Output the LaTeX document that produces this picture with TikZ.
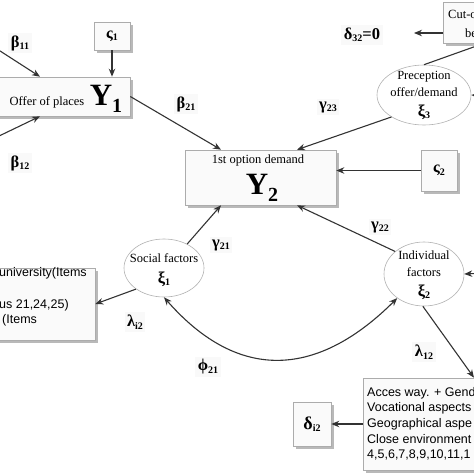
\documentclass[tikz,border=0pt]{standalone}
\usepackage{fontspec}
\setmainfont{Liberation Serif}
\newfontfamily\arialf{Liberation Sans}
\usetikzlibrary{arrows.meta,shadows,shapes.geometric}
\newcommand\gsub[2]{\textbf{#1\raisebox{-2.5pt}{\fontsize{10}{10}\selectfont #2}}}
\begin{document}
\begin{tikzpicture}[x=1pt,y=-1pt,
  arr/.style={draw=black!80, line width=1.1pt, -{Stealth[length=8pt,width=6.5pt]}},
  plain/.style={draw=black!80, line width=1.1pt},
  box/.style={draw=gray!65, line width=0.6pt, fill=gray!4, drop shadow={shadow xshift=2.5pt, shadow yshift=-2.5pt, fill=gray!55, opacity=1}, inner sep=0pt},
  ell/.style={ellipse, draw=gray!60, line width=0.6pt, fill=white, inner sep=0pt},
  coef/.style={fill=gray!5, inner sep=2.5pt, font=\fontsize{16.5}{18}\selectfont},
  serif/.style={font=\fontsize{12.5}{14}\selectfont, inner sep=0pt},
  sans/.style={font=\arialf\fontsize{12.5}{14}\selectfont, inner sep=0pt, anchor=west},
  bigy/.style={inner sep=0pt, font=\bfseries\fontsize{31}{31}\selectfont},
  grk/.style={inner sep=0pt, font=\fontsize{16.5}{18}\selectfont},
]
\useasboundingbox (0,0) rectangle (474,474);

% boxes
\node[box, minimum width=150pt, minimum height=39pt] (Y1) at (55,96.5) {};
\node[serif] (Y1t) at (47,102) {Offer of places};
\node[bigy] (Y1y) at (106,98.5) {Y\raisebox{-7pt}{\fontsize{20}{20}\selectfont 1}};

\node[box, minimum width=151pt, minimum height=55pt] (Y2) at (260.5,177.5) {};
\node[serif] (Y2t) at (258,160) {1st option demand};
\node[bigy] (Y2y) at (262,188) {Y\raisebox{-7pt}{\fontsize{20}{20}\selectfont 2}};

\node[box, minimum width=36pt, minimum height=28pt, font=\fontsize{16}{18}\selectfont] (s1) at (112,36) {\gsub{ς}{1}};
\node[box, minimum width=36pt, minimum height=41pt, font=\fontsize{16}{18}\selectfont] (s2) at (439,170.5) {\gsub{ς}{2}};
\node[box, minimum width=38pt, minimum height=44pt, font=\fontsize{18}{20}\selectfont] (di) at (312,424) {\gsub{δ}{i2}};

\node[box, minimum width=120pt, minimum height=41pt] (C) at (503,22.5) {};
\node[serif, anchor=west] (Ct1) at (448,14) {Cut-o};
\node[serif, anchor=west] (Ct2) at (465,33) {be};

\node[box, minimum width=160pt, minimum height=72pt] (L) at (15,304) {};
\node[sans] (Lt1) at (-1,273) {university(Items};
\node[sans] (Lt2) at (-1,305) {us 21,24,25)};
\node[sans] (Lt3) at (2,320) {(Items};

\node[box, minimum width=200pt, minimum height=92pt] (R) at (463,424) {};
\node[sans] (Rt1) at (367,393) {Acces way. + Gend};
\node[sans] (Rt2) at (367,408.5) {Vocational aspects};
\node[sans] (Rt3) at (367,424) {Geographical aspe};
\node[sans] (Rt4) at (367,439.5) {Close environment};
\node[sans] (Rt5) at (367,455) {4,5,6,7,8,9,10,11,1};

% ellipses
\node[ell, minimum width=94pt, minimum height=60pt] (P) at (424,95) {};
\node[serif] (Pt1) at (424,77) {Preception};
\node[serif] (Pt2) at (424,92) {offer/demand};
\node[grk] (Pt3) at (424,112) {\gsub{ξ}{3}};

\node[ell, minimum width=80pt, minimum height=58pt] (S) at (164,268) {};
\node[serif] (St1) at (164,258) {Social factors};
\node[grk] (St2) at (164,279) {\gsub{ξ}{1}};

\node[ell, minimum width=80pt, minimum height=64pt] (I) at (424,274) {};
\node[serif] (It1) at (424,255) {Individual};
\node[serif] (It2) at (424,272) {factors};
\node[grk] (It3) at (424,292) {\gsub{ξ}{2}};

% coefficient labels
\node[coef] (b11) at (20,43) {\gsub{β}{11}};
\node[coef] (b12) at (20,163) {\gsub{β}{12}};
\node[coef] (b21) at (186,104) {\gsub{β}{21}};
\node[coef] (g23) at (328,107) {\gsub{γ}{23}};
\node[coef] (d32) at (362,35) {\gsub{δ}{32}\textbf{=0}};
\node[coef] (g21) at (221,245) {\gsub{γ}{21}};
\node[coef] (g22) at (380,227) {\gsub{γ}{22}};
\node[coef] (li2) at (135,322) {\gsub{λ}{i2}};
\node[coef] (f21) at (208,367) {\gsub{ϕ}{21}};
\node[coef] (l12) at (424,352) {\gsub{λ}{12}};

% connectors
\coordinate (b11s) at (-3,49);
\draw[arr] (b11s) -- ([xshift=-15pt]Y1.north);
\coordinate (b12s) at (-3,137);
\draw[arr] (b12s) -- ([xshift=-15pt]Y1.south);
\draw[arr] (s1.south) -- (s1.south |- Y1.north);
\draw[arr] (Y1.east) -- ([xshift=-39.5pt]Y2.north);
\draw[arr] (s2.west) -- (s2.west -| Y2.east);
\draw[arr] (P.214) -- ([xshift=36.5pt]Y2.north);
\draw[arr] (S.46) -- ([xshift=-39.5pt]Y2.south);
\draw[arr] (I.142) -- ([xshift=36.5pt]Y2.south);
\draw[arr] (S.217) -- (L.east);
\draw[arr, {Stealth[length=8pt,width=6.5pt]}-{Stealth[length=8pt,width=6.5pt]}] (S.south) .. controls (240,384) and (319,376) .. (I.222);
\draw[arr] (I.268) -- ([xshift=11pt]R.north);
\draw[arr] (R.west) -- (di.east);
\coordinate (dtip) at (414,33);
\draw[arr] (C.west |- dtip) -- (dtip);
\draw[plain] (P.north) -- ([xshift=-19pt]C.south);
\coordinate (pin) at (486,96);
\draw[arr] (pin) -- (P.east);
\coordinate (iin) at (486,273);
\draw[arr] (iin) -- (I.east);
\end{tikzpicture}
\end{document}
